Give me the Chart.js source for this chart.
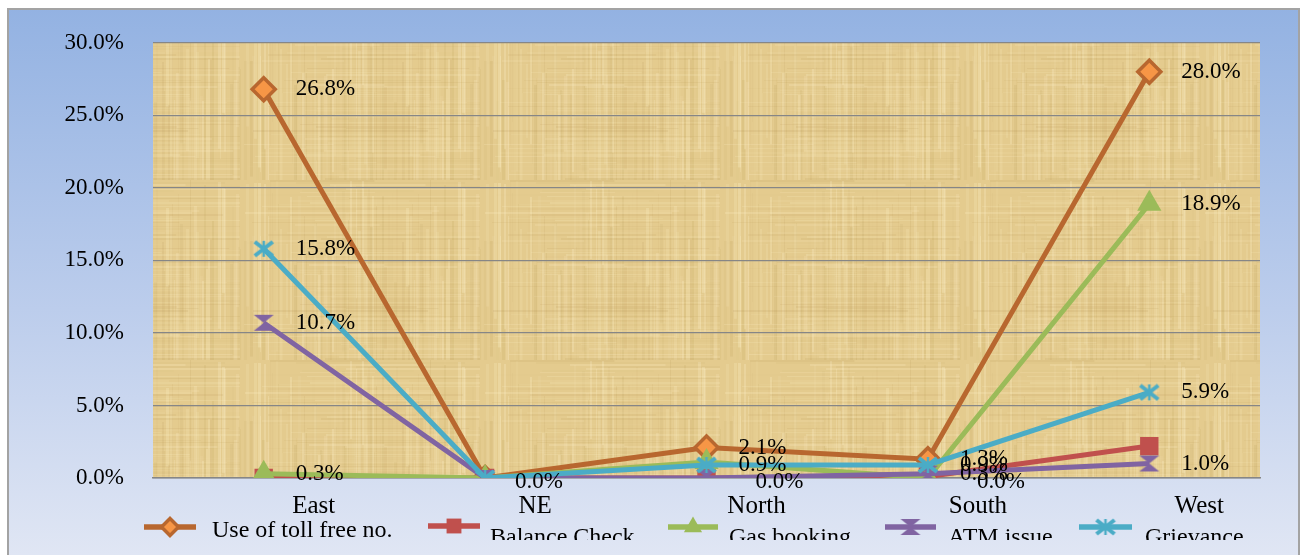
<!DOCTYPE html>
<html>
<head>
<meta charset="utf-8">
<title>Share of complaint types by region</title>
<script src="https://cdn.jsdelivr.net/npm/chart.js@4.4.1/dist/chart.umd.min.js"></script>
<style>
  html, body { margin: 0; padding: 0; background: #ffffff; }
  #wrap { width: 1303px; height: 555px; position: relative; }
  canvas { display: block; }
</style>
</head>
<body>
<div id="wrap"><canvas id="chart" width="1303" height="555"></canvas></div>
<script>
// Regions along the x axis
const regions = ['East', 'NE', 'North', 'South', 'West'];

// Series names
const seriesNames = ['Use of toll free no.', 'Balance Check', 'Gas booking', 'ATM issue', 'Grievance'];

// Share of calls per region (percent)
const tollFree  = [26.8, 0.0, 2.1, 1.3, 28.0];
const balance   = [0.0, 0.0, 0.0, 0.1, 2.2];
const gasBooking = [0.3, 0.0, 1.1, 0.0, 18.9];
const atmIssue  = [10.7, 0.0, 0.0, 0.3, 1.0];
const grievance = [15.8, 0.0, 0.9, 0.9, 5.9];

// Which points carry a value label (1 = shown)
const tollFreeLabels  = [1, 1, 1, 1, 1];
const balanceLabels   = [0, 0, 1, 0, 0];
const gasBookingLabels = [1, 0, 0, 1, 1];
const atmIssueLabels  = [1, 0, 0, 1, 1];
const grievanceLabels = [1, 0, 1, 1, 1];

// Y axis range and tick step (percent)
const yMin = 0, yMax = 30, yStep = 5;

const SERIF = '"Liberation Serif", "Times New Roman", "DejaVu Serif", serif';

// ---- custom marker images ----
function hourglass(color) {
  const c = document.createElement('canvas');
  c.width = 22; c.height = 18;
  const g = c.getContext('2d');
  g.fillStyle = color;
  g.beginPath();
  g.moveTo(1, 1); g.lineTo(21, 1); g.lineTo(11, 9); g.closePath();
  g.moveTo(1, 17); g.lineTo(21, 17); g.lineTo(11, 9); g.closePath();
  g.fill();
  return c;
}
function asterisk(color) {
  const c = document.createElement('canvas');
  c.width = 22; c.height = 18;
  const g = c.getContext('2d');
  g.strokeStyle = color;
  g.lineWidth = 4;
  g.beginPath();
  g.moveTo(2, 2); g.lineTo(20, 16);
  g.moveTo(20, 2); g.lineTo(2, 16);
  g.stroke();
  g.lineWidth = 2.5;
  g.beginPath();
  g.moveTo(11, 1); g.lineTo(11, 17);
  g.stroke();
  return c;
}

// ---- papyrus-like texture for the plot area ----
function hash(n) {
  const h = Math.sin(n * 12.9898 + 78.233) * 43758.5453;
  return h - Math.floor(h);
}
function papyrusPattern(ctx) {
  const c = document.createElement('canvas');
  c.width = 240; c.height = 180;
  const g = c.getContext('2d');
  g.fillStyle = '#e4cb8e';
  g.fillRect(0, 0, c.width, c.height);
  for (let i = 0; i < c.width; i += 2) {
    const f = hash(i);
    const w = 1 + Math.floor(hash(i + 500) * 3);
    g.fillStyle = f > 0.5
      ? 'rgba(255,244,205,' + ((f - 0.5) * 0.55).toFixed(3) + ')'
      : 'rgba(170,138,64,' + ((0.5 - f) * 0.25).toFixed(3) + ')';
    const y0 = Math.floor(hash(i + 900) * c.height * 0.6);
    const len = c.height * (0.4 + hash(i + 1300) * 0.6);
    g.fillRect(i, y0, w, len);
  }
  for (let j = 0; j < c.height; j += 2) {
    const f = hash(j + 2000);
    const h = 1 + Math.floor(hash(j + 2500) * 2);
    g.fillStyle = f > 0.5
      ? 'rgba(255,242,200,' + ((f - 0.5) * 0.45).toFixed(3) + ')'
      : 'rgba(165,132,60,' + ((0.5 - f) * 0.22).toFixed(3) + ')';
    const x0 = Math.floor(hash(j + 2900) * c.width * 0.5);
    const len = c.width * (0.3 + hash(j + 3300) * 0.7);
    g.fillRect(x0, j, len, h);
  }
  return ctx.createPattern(c, 'repeat');
}

// Frame with a vertical blue gradient behind everything, textured plot area
const backdrop = {
  id: 'backdrop',
  beforeDraw(chart) {
    const { ctx, chartArea: a } = chart;
    ctx.save();
    ctx.fillStyle = '#ffffff';
    ctx.fillRect(0, 0, chart.width, chart.height);
    const grad = ctx.createLinearGradient(0, 8, 0, chart.height);
    grad.addColorStop(0, '#93b2e2');
    grad.addColorStop(0.55, '#bccdec');
    grad.addColorStop(1, '#e0e6f4');
    ctx.fillStyle = grad;
    ctx.fillRect(8, 9, 1291, chart.height);
    ctx.strokeStyle = '#a3a3a3';
    ctx.lineWidth = 2;
    ctx.strokeRect(8, 9, 1291, chart.height + 10);
    ctx.fillStyle = papyrusPattern(ctx);
    ctx.fillRect(a.left, a.top, a.right - a.left, a.bottom - a.top);
    ctx.restore();
  }
};

// Value labels to the right of the flagged points
const valueLabels = {
  id: 'valueLabels',
  afterDatasetsDraw(chart) {
    const { ctx } = chart;
    ctx.save();
    ctx.font = '23px ' + SERIF;
    ctx.fillStyle = '#000000';
    ctx.textAlign = 'left';
    ctx.textBaseline = 'middle';
    chart.data.datasets.forEach((ds, di) => {
      const meta = chart.getDatasetMeta(di);
      ds.data.forEach((v, i) => {
        if (!ds.showLabel[i]) return;
        const p = meta.data[i];
        let dx = 32, dy = 0;
        if (v === 0) { dy = 4; dx = (i === 1) ? 30 : 49; }
        ctx.fillText(v.toFixed(1) + '%', p.x + dx, p.y + dy);
      });
    });
    ctx.restore();
  }
};

// Legend row along the bottom edge
const legendRow = {
  id: 'legendRow',
  afterDraw(chart) {
    const { ctx } = chart;
    const items = [
      { x0: 144, x1: 196, y: 527, tx: 212, base: 537 },
      { x0: 428, x1: 480, y: 526, tx: 490, base: 544 },
      { x0: 668, x1: 718, y: 527, tx: 729, base: 544 },
      { x0: 885, x1: 936, y: 527, tx: 948, base: 544 },
      { x0: 1079, x1: 1132, y: 527, tx: 1145, base: 544 }
    ];
    ctx.save();
    ctx.beginPath();
    ctx.rect(0, 0, chart.width, 540);
    ctx.clip();
    chart.data.datasets.forEach((ds, di) => {
      const it = items[di];
      ctx.strokeStyle = ds.borderColor;
      ctx.lineWidth = 5.5;
      ctx.beginPath();
      ctx.moveTo(it.x0, it.y);
      ctx.lineTo(it.x1, it.y);
      ctx.stroke();
      const cx = (it.x0 + it.x1) / 2;
      const style = ds.pointStyle;
      if (typeof style === 'string') {
        ctx.fillStyle = ds.pointBackgroundColor;
        ctx.strokeStyle = ds.pointBorderColor;
        ctx.lineWidth = ds.pointBorderWidth;
        const r = style === 'rectRot' ? 8.5 : 10.5;
        Chart.helpers.drawPoint(ctx, { pointStyle: style, radius: r, rotation: 0, borderWidth: ds.pointBorderWidth }, cx, it.y);
      } else {
        ctx.drawImage(style, cx - style.width / 2, it.y - style.height / 2);
      }
      ctx.fillStyle = '#000000';
      ctx.font = '24px ' + SERIF;
      ctx.textAlign = 'left';
      ctx.textBaseline = 'alphabetic';
      ctx.fillText(ds.label, it.tx, it.base);
    });
    ctx.restore();
  }
};

const palette = {
  toll: '#b8672f', tollFill: '#f79646',
  balance: '#c0504d', gas: '#9bbb59', atm: '#8064a2', griev: '#4bacc6'
};

function series(label, data, flags, color, extra) {
  return Object.assign({
    label: label,
    data: data,
    showLabel: flags.map(Boolean),
    borderColor: color,
    backgroundColor: color,
    pointBackgroundColor: color,
    pointBorderColor: color,
    pointBorderWidth: 0,
    borderWidth: 5,
    tension: 0,
    fill: false
  }, extra);
}

const datasets = [
  series(seriesNames[0], tollFree, tollFreeLabels, palette.toll, {
    pointStyle: 'rectRot', pointRadius: 11.5, pointBackgroundColor: palette.tollFill,
    pointBorderColor: palette.toll, pointBorderWidth: 3.5, order: 5
  }),
  series(seriesNames[1], balance, balanceLabels, palette.balance, {
    pointStyle: 'rect', pointRadius: 13, order: 4
  }),
  series(seriesNames[2], gasBooking, gasBookingLabels, palette.gas, {
    pointStyle: 'triangle', pointRadius: 14, order: 3
  }),
  series(seriesNames[3], atmIssue, atmIssueLabels, palette.atm, {
    pointStyle: hourglass(palette.atm), pointRadius: 11, order: 2
  }),
  series(seriesNames[4], grievance, grievanceLabels, palette.griev, {
    pointStyle: asterisk(palette.griev), pointRadius: 11, order: 1
  })
];

new Chart(document.getElementById('chart'), {
  type: 'line',
  data: { labels: regions, datasets: datasets },
  plugins: [backdrop, valueLabels, legendRow],
  options: {
    responsive: false,
    devicePixelRatio: 1,
    animation: false,
    events: [],
    layout: { padding: { top: 37, right: 43, left: 0, bottom: 0 } },
    plugins: { legend: { display: false }, tooltip: { enabled: false } },
    scales: {
      x: {
        offset: true,
        afterFit(scale) { scale.height = 77; },
        grid: { display: false, drawTicks: false },
        border: { display: true, color: '#868686', width: 1.5 },
        ticks: {
          color: '#000000',
          font: { family: SERIF, size: 25 },
          padding: 13,
          labelOffset: 50,
          maxRotation: 0,
          autoSkip: false
        }
      },
      y: {
        min: yMin, max: yMax,
        afterFit(scale) { scale.width = 153; },
        grid: { color: '#868686', lineWidth: 1.3, drawTicks: false },
        border: { display: false },
        ticks: {
          stepSize: yStep,
          padding: 29,
          color: '#000000',
          font: { family: SERIF, size: 23 },
          callback: v => v.toFixed(1) + '%'
        }
      }
    }
  }
});
</script>
</body>
</html>
